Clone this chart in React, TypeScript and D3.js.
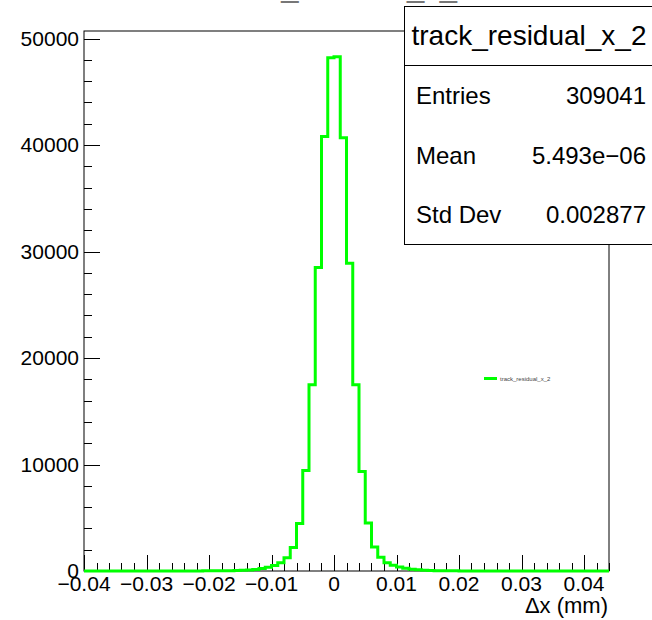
import React from "react";
import * as d3 from "d3";

// Histogram binning: 84 bins of width 0.001 mm from -0.04 to 0.044
const binStart = -0.04;
const binWidth = 0.001;
const binCounts = [
  0, 0, 0, 0, 0, 1, 0, 1, 1, 1,
  2, 2, 3, 3, 4, 5, 6, 8, 10, 13,
  16, 20, 25, 32, 45, 65, 100, 150, 230, 350,
  520, 780, 1250, 2200, 4450, 9450, 17500, 28500, 40800, 48200,
  48300, 40700, 28900, 17500, 9350, 4500, 2250, 1300, 780, 540,
  380, 260, 170, 110, 70, 48, 34, 25, 19, 14,
  11, 8, 6, 5, 4, 3, 3, 2, 2, 1,
  1, 1, 1, 0, 1, 0, 0, 0, 0, 0,
  0, 0, 0, 0,
];

const xTicks = [-0.04, -0.03, -0.02, -0.01, 0, 0.01, 0.02, 0.03, 0.04];
const xTickLabels = ["−0.04", "−0.03", "−0.02", "−0.01", "0", "0.01", "0.02", "0.03", "0.04"];
const yTicks = [0, 10000, 20000, 30000, 40000, 50000];
const yTickLabels = ["0", "10000", "20000", "30000", "40000", "50000"];

const histName = "track_residual_x_2";
const statLabels = ["Entries", "Mean", "Std Dev"];
const statValues = ["309041", "5.493e−06", "0.002877"];
const xTitle = "Δx (mm)";

const W = 652;
const H = 620;
const left = 84;
const right = 609;
const top = 31;
const bottom = 571;
const font = "'Liberation Sans', Arial, Helvetica, sans-serif";

export default function App() {
  const xMax = binStart + binWidth * binCounts.length;
  const yMax = d3.max(binCounts)! * 1.05;
  const x = d3.scaleLinear().domain([binStart, xMax]).range([left, right]);
  const y = d3.scaleLinear().domain([0, yMax]).range([bottom, top]);

  const pts: [number, number][] = binCounts.map((c, i) => [binStart + i * binWidth, c]);
  pts.push([xMax, binCounts[binCounts.length - 1]]);
  const line = d3
    .line<[number, number]>()
    .x((d) => x(d[0]))
    .y((d) => y(d[1]))
    .curve(d3.curveStepAfter);

  // minor ticks every 0.002 on x, every 2000 on y
  const xMinor = d3.range(-0.04, xMax + 1e-9, 0.002).map((v) => +v.toFixed(4));
  const yMinor = d3.range(0, yMax, 2000);

  const majorLen = 16;
  const minorLen = 8;

  return (
    <svg
      width={W}
      height={H}
      style={{ position: "fixed", left: 0, top: 0, background: "#fff" }}
      fontFamily={font}
    >
      <rect x={0} y={0} width={W} height={H} fill="#fff" />
      {/* pad title, mostly above the visible area */}
      <text x={214} y={-3} fontSize={31} fill="#777">
        {histName}
      </text>

      {/* frame */}
      <rect x={left} y={top} width={right - left} height={bottom - top} fill="none" stroke="#000" strokeWidth={1} />

      {/* x ticks */}
      {xMinor.map((v, i) => {
        const isMajor = Math.abs(Math.round(v * 100) - v * 100) < 1e-6;
        const px = Math.round(x(v)) + 0.5;
        return (
          <line key={"xm" + i} x1={px} x2={px} y1={bottom} y2={bottom - (isMajor ? majorLen : minorLen)} stroke="#000" strokeWidth={1} />
        );
      })}
      {xTicks.map((v, i) => (
        <text key={"xl" + i} x={x(v)} y={591} fontSize={21} textAnchor="middle" fill="#000">
          {xTickLabels[i]}
        </text>
      ))}
      <text x={right - 1} y={613} fontSize={22} textAnchor="end" fill="#000">
        {xTitle}
      </text>

      {/* y ticks */}
      {yMinor.map((v, i) => {
        const isMajor = v % 10000 === 0;
        const py = Math.round(y(v)) + 0.5;
        return (
          <line key={"ym" + i} x1={left} x2={left + (isMajor ? majorLen : minorLen)} y1={py} y2={py} stroke="#000" strokeWidth={1} />
        );
      })}
      {yTicks.map((v, i) => (
        <text key={"yl" + i} x={79} y={y(v) + 7} fontSize={21} textAnchor="end" fill="#000">
          {yTickLabels[i]}
        </text>
      ))}

      {/* histogram outline */}
      <path d={line(pts) ?? ""} fill="none" stroke="#00ff00" strokeWidth={3} />

      {/* legend */}
      <line x1={484} x2={497} y1={378.5} y2={378.5} stroke="#00ff00" strokeWidth={3} />
      <text x={500} y={380.5} fontSize={6} fill="#444">
        {histName}
      </text>

      {/* statistics box */}
      <rect x={404.5} y={6.5} width={260} height={238} fill="#fff" stroke="#000" strokeWidth={1} />
      <line x1={404.5} x2={W} y1={65.5} y2={65.5} stroke="#000" strokeWidth={1} />
      <text x={529} y={45} fontSize={28} textAnchor="middle" fill="#000">
        {histName}
      </text>
      {statLabels.map((s, i) => (
        <g key={"st" + i}>
          <text x={416} y={104 + i * 59.5} fontSize={24} fill="#000">
            {s}
          </text>
          <text x={646} y={104 + i * 59.5} fontSize={24} textAnchor="end" fill="#000">
            {statValues[i]}
          </text>
        </g>
      ))}
    </svg>
  );
}
